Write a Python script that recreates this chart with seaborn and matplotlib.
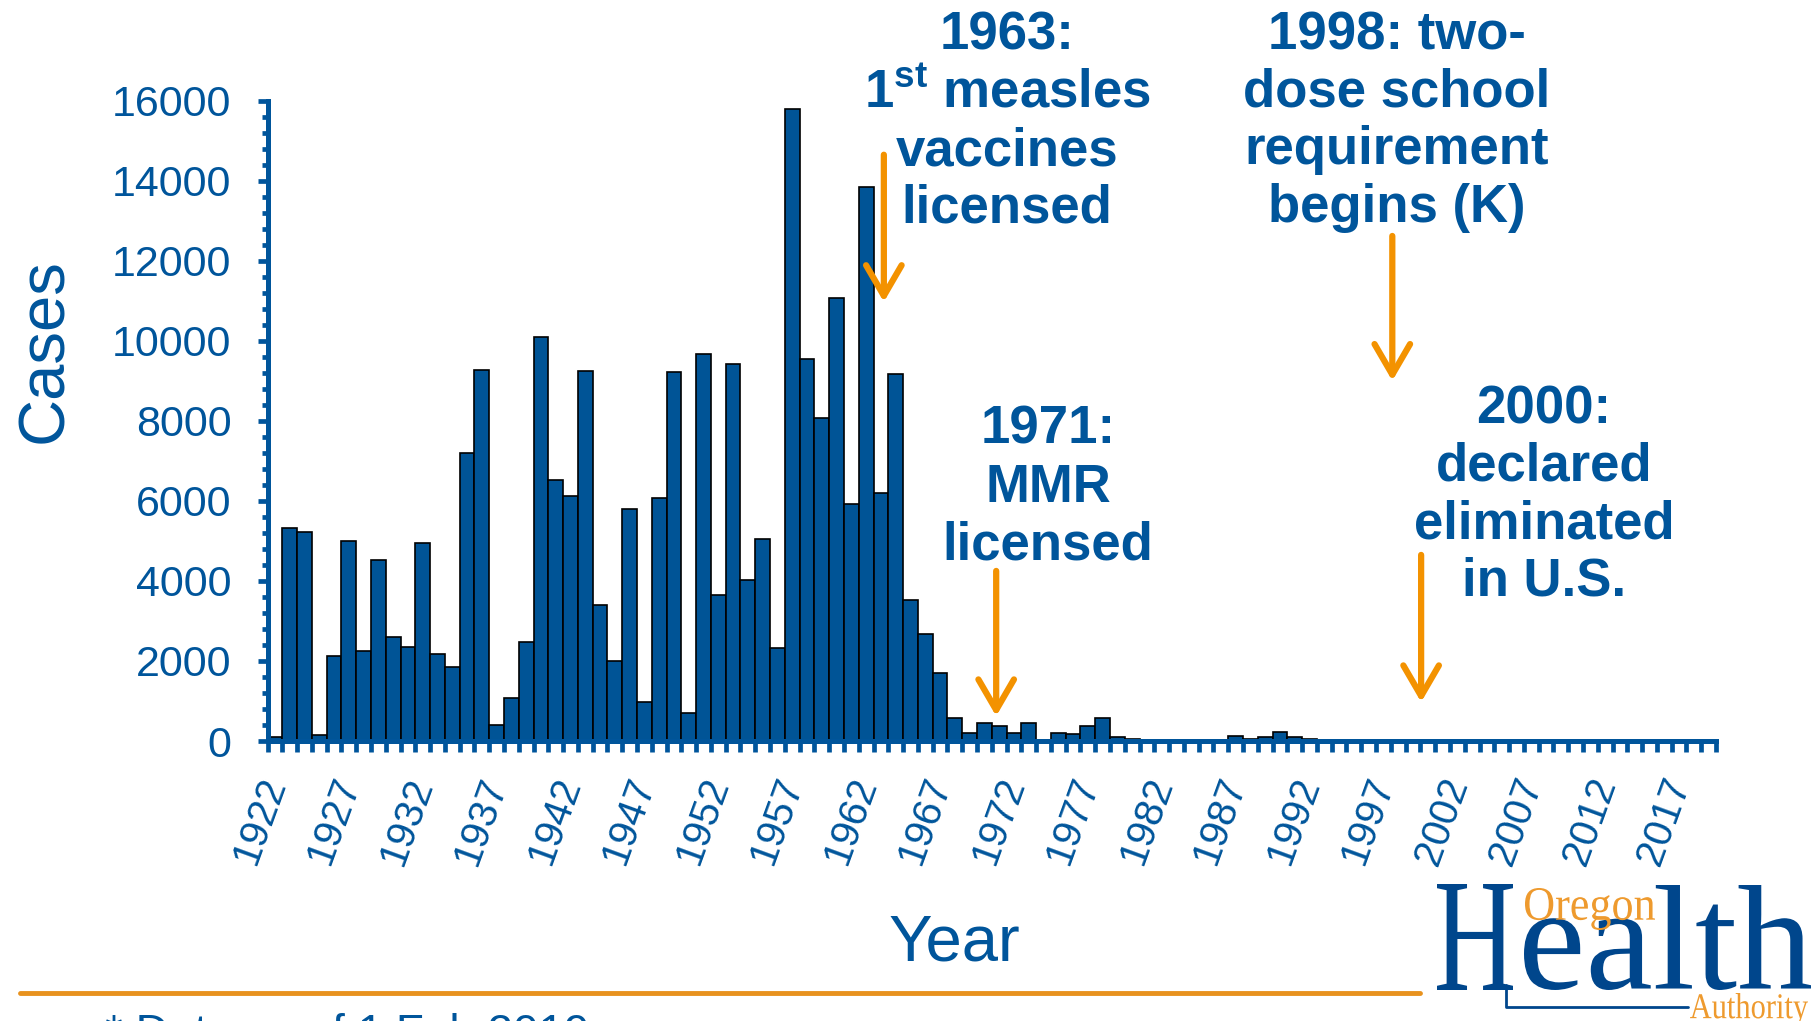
import numpy as np
import pandas as pd
import matplotlib
matplotlib.use('Agg')
import matplotlib.pyplot as plt
import seaborn as sns
from matplotlib.textpath import TextPath
from matplotlib.patches import PathPatch
from matplotlib.font_manager import FontProperties
from matplotlib.transforms import Affine2D, ScaledTranslation
from matplotlib.lines import Line2D
from matplotlib.ticker import MultipleLocator, FixedLocator

sns.set_theme(style='ticks')
plt.rcParams['font.family'] = ['Liberation Sans', 'DejaVu Sans']
plt.rcParams['mathtext.fontset'] = 'custom'
plt.rcParams['mathtext.rm'] = 'Liberation Sans'
plt.rcParams['mathtext.bf'] = 'Liberation Sans:bold'

# ================= data =================
years = list(range(1922, 2020))
cases = [
    100, 5330, 5220, 160, 2120, 5000, 2250, 4520, 2610, 2350,      # 1922-1931
    4950, 2180, 1860, 7200, 9280, 390, 1070, 2470, 10100, 6520,    # 1932-1941
    6130, 9250, 3390, 1990, 5790, 980, 6060, 9210, 690, 9670,      # 1942-1951
    3650, 9430, 4030, 5060, 2320, 15790, 9540, 8080, 11080, 5920,  # 1952-1961
    13850, 6190, 9180, 3520, 2680, 1690, 570, 190, 460, 380,       # 1962-1971
    190, 450, 30, 190, 175, 365, 565, 90, 40, 30,                  # 1972-1981
    20, 20, 20, 20, 30, 130, 40, 100, 215, 110,                    # 1982-1991
    40, 10, 5, 5, 10, 5, 5, 15, 5, 0,                              # 1992-2001
    5, 0, 5, 0, 5, 5, 20, 5, 0, 10,                                # 2002-2011
    5, 10, 5, 5, 5, 10, 10, 25,                                    # 2012-2019
]
tick_years = years[::5]

# milestones: (label, arrow x in category units, arrow start, arrow tip)
milestones = [
    ("1963:\n1$^{\\mathbf{st}}$ measles\nvaccines\nlicensed", 41.2, 14650, 10970),
    ("1971:\nMMR\nlicensed", 48.8, 4250, 620),
    ("1998: two-\ndose school\nrequirement\nbegins (K)", 75.6, 12620, 9000),
    ("2000:\ndeclared\neliminated\nin U.S.", 77.55, 4650, 970),
]
# text block centre x / top y in pixels
text_pos = [(1007, 11), (1048, 405), (1397, 10), (1544, 384)]

BLUE = '#00559B'
BAR = '#005496'
ORANGE = '#F39200'
LOGO_BLUE = '#00468C'
LOGO_ORANGE = '#EE9A2E'

W, H = 1820, 1021
fig = plt.figure(figsize=(18.2, 10.21), dpi=100)
fig.patch.set_facecolor('white')
ax = fig.add_axes([267.5 / W, 1 - 741 / H, 1448.5 / W, 640.3 / H])

df = pd.DataFrame({'year': [str(y) for y in years], 'cases': cases})
sns.barplot(data=df, x='year', y='cases', color=BAR, saturation=1,
            edgecolor='black', linewidth=1.2, width=1.0, ax=ax, zorder=2)

ax.set_xlim(-0.5, len(years) - 0.5)
ax.set_ylim(0, 16000)
sns.despine(ax=ax)
for s in ['left', 'bottom']:
    ax.spines[s].set_color(BLUE)
    ax.spines[s].set_linewidth(3.6)
    ax.spines[s].set_zorder(3)

ax.set_xticks([years.index(y) for y in tick_years])
ax.set_xticklabels([str(y) for y in tick_years], rotation=70, ha='right',
                   va='center', rotation_mode='anchor')
shift = ScaledTranslation(6 / 100, 0, fig.dpi_scale_trans)
for lab in ax.get_xticklabels():
    lab.set_transform(lab.get_transform() + shift)
ax.xaxis.set_minor_locator(FixedLocator(np.arange(-0.5, len(years), 1.0)))
ax.tick_params(axis='x', which='major', length=0, pad=27, labelsize=29, labelcolor=BLUE)
ax.tick_params(axis='x', which='minor', length=8, width=3.4, color=BLUE)

ax.yaxis.set_major_locator(MultipleLocator(2000))
ax.yaxis.set_minor_locator(MultipleLocator(400))
ax.tick_params(axis='y', which='major', length=7, width=3.4, color=BLUE,
               pad=19, labelsize=31, labelcolor=BLUE)
ax.tick_params(axis='y', which='minor', length=4.5, width=3.4, color=BLUE)

ax.set_ylabel('Cases', fontsize=47, color=BLUE, va='center')
ax.yaxis.set_label_coords(-0.1536, 0.609)
ax.set_xlabel('Year', fontsize=47, color=BLUE, va='center')
ax.xaxis.set_label_coords(0.474, -0.3155)

# milestone arrows and text
for (label, xa, y0, y1), (tx, ty) in zip(milestones, text_pos):
    ax.annotate('', xy=(xa, y1), xytext=(xa, y0),
                arrowprops=dict(arrowstyle='->,head_length=0.55,head_width=0.32',
                                color=ORANGE, lw=4.5, mutation_scale=40,
                                shrinkA=0, shrinkB=0, capstyle='round',
                                joinstyle='round'), zorder=4)
    fig.text(tx / W, 1 - ty / H, label, ha='center', va='top', multialignment='center',
             fontsize=38, fontweight='bold', color=BLUE, linespacing=1.195)

# bottom rule and footnote
fig.add_artist(Line2D([20 / W, 1420 / W], [1 - 993 / H] * 2, color='#E8921E', lw=3.5))
fig.text(105 / W, 1 - 1013 / H, '* Data as of 1 Feb 2019', ha='left', va='top',
         fontsize=33, color=BLUE)


# logo drawn as stretched text outlines (pixel coordinates, y from top)
def draw_word(text, family, box, color):
    x0, y0, x1, y1 = box
    tp = TextPath((0, 0), text, size=100, prop=FontProperties(family=family))
    bb = tp.get_extents()
    tr = (Affine2D().translate(-bb.x0, -bb.y0)
          .scale((x1 - x0) / bb.width, (y1 - y0) / bb.height)
          .translate(x0, H - y1))
    fig.add_artist(PathPatch(tp, transform=tr, facecolor=color, edgecolor='none', lw=0))


draw_word('H', 'Liberation Serif', (1437, 884, 1513, 990), LOGO_BLUE)
draw_word('ealth', 'Liberation Serif', (1524, 885, 1811, 990), LOGO_BLUE)
draw_word('Oregon', 'Liberation Serif', (1525, 888, 1655, 930), LOGO_ORANGE)
draw_word('Authority', 'Liberation Serif', (1690, 993, 1808, 1026), LOGO_ORANGE)
fig.add_artist(Line2D([1506 / W, 1506 / W, 1688 / W],
                      [1 - 985 / H, 1 - 1007 / H, 1 - 1007 / H],
                      color=LOGO_BLUE, lw=2.0))

fig.savefig('out.png', dpi=100, facecolor='white')
